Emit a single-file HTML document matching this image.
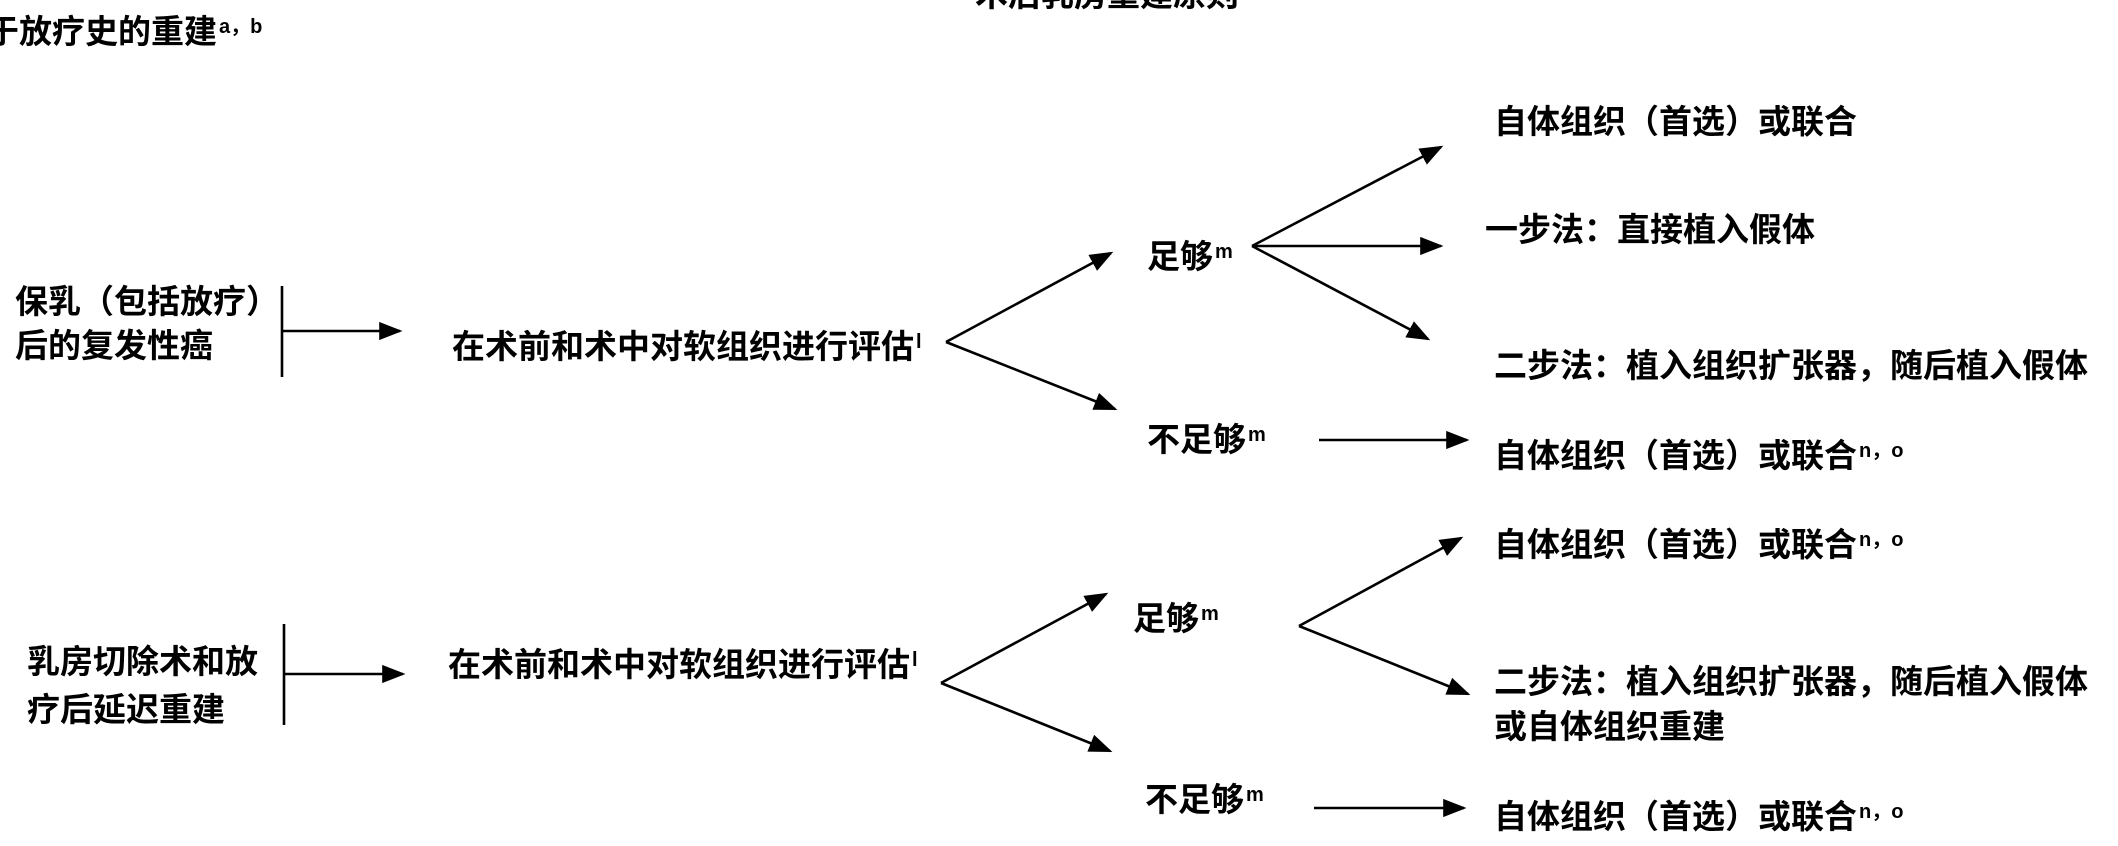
<!DOCTYPE html>
<html><head><meta charset="utf-8"><style>
html,body{margin:0;padding:0;background:#fff;}
body{width:2118px;height:846px;position:relative;overflow:hidden;font-family:"Liberation Sans","Noto Sans CJK SC",sans-serif;font-weight:bold;color:#000;}
.t{position:absolute;font-size:33px;line-height:34px;white-space:nowrap;}
sup{font-size:20px;vertical-align:0;position:relative;top:-10px;margin-left:2px;}
svg{position:absolute;left:0;top:0;}
</style></head><body>
<svg width="2118" height="846">
<defs><marker id="a" markerWidth="9" markerHeight="7" refX="8" refY="3.5" orient="auto" markerUnits="strokeWidth"><path d="M0,0 L9,3.5 L0,7 z" fill="#000"/></marker></defs>
<g stroke="#000" stroke-width="2.6" fill="none">
<line x1="282" y1="286" x2="282" y2="377"/>
<line x1="282" y1="331" x2="400" y2="331" marker-end="url(#a)"/>
<line x1="946" y1="342" x2="1111" y2="253" marker-end="url(#a)"/>
<line x1="946" y1="342" x2="1115" y2="409" marker-end="url(#a)"/>
<line x1="1252" y1="246" x2="1441" y2="147" marker-end="url(#a)"/>
<line x1="1252" y1="246" x2="1441" y2="246" marker-end="url(#a)"/>
<line x1="1252" y1="246" x2="1428" y2="339" marker-end="url(#a)"/>
<line x1="1319" y1="440" x2="1467" y2="440" marker-end="url(#a)"/>
<line x1="284" y1="624" x2="284" y2="725"/>
<line x1="284" y1="674" x2="403" y2="674" marker-end="url(#a)"/>
<line x1="941" y1="683" x2="1106" y2="594" marker-end="url(#a)"/>
<line x1="941" y1="683" x2="1110" y2="751" marker-end="url(#a)"/>
<line x1="1299" y1="626" x2="1461" y2="538" marker-end="url(#a)"/>
<line x1="1299" y1="626" x2="1468" y2="694" marker-end="url(#a)"/>
<line x1="1314" y1="808" x2="1464" y2="808" marker-end="url(#a)"/>
</g>
</svg>
<div class="t" style="left:975px;top:-22px;">术后乳房重建原则</div>
<div class="t" style="left:-14px;top:15px;">于放疗史的重建<sup>a，b</sup></div>
<div class="t" style="left:15px;top:285px;">保乳（包括放疗）</div>
<div class="t" style="left:15px;top:329px;">后的复发性癌</div>
<div class="t" style="left:452px;top:330px;">在术前和术中对软组织进行评估<sup>l</sup></div>
<div class="t" style="left:1147px;top:240px;">足够<sup>m</sup></div>
<div class="t" style="left:1147px;top:423px;">不足够<sup>m</sup></div>
<div class="t" style="left:1494px;top:105px;">自体组织（首选）或联合</div>
<div class="t" style="left:1485px;top:213px;">一步法：直接植入假体</div>
<div class="t" style="left:1494px;top:349px;">二步法：植入组织扩张器，随后植入假体</div>
<div class="t" style="left:1494px;top:439px;">自体组织（首选）或联合<sup>n，o</sup></div>
<div class="t" style="left:27px;top:645px;">乳房切除术和放</div>
<div class="t" style="left:27px;top:693px;">疗后延迟重建</div>
<div class="t" style="left:448px;top:648px;">在术前和术中对软组织进行评估<sup>l</sup></div>
<div class="t" style="left:1133px;top:602px;">足够<sup>m</sup></div>
<div class="t" style="left:1145px;top:783px;">不足够<sup>m</sup></div>
<div class="t" style="left:1494px;top:528px;">自体组织（首选）或联合<sup>n，o</sup></div>
<div class="t" style="left:1494px;top:665px;">二步法：植入组织扩张器，随后植入假体</div>
<div class="t" style="left:1494px;top:710px;">或自体组织重建</div>
<div class="t" style="left:1494px;top:800px;">自体组织（首选）或联合<sup>n，o</sup></div>
</body></html>
